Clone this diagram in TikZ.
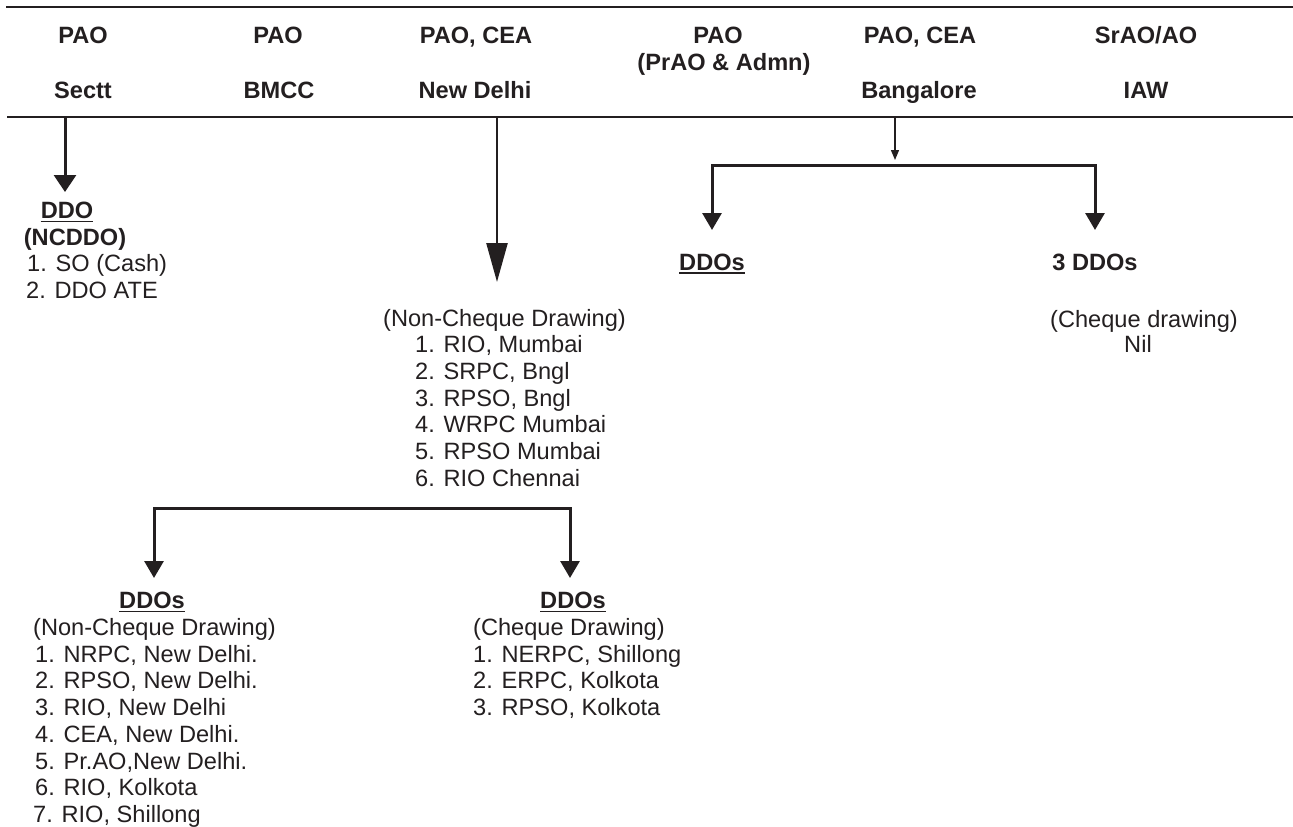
\documentclass[tikz,border=0pt]{standalone}
\usepackage{fontspec}
\setmainfont{Liberation Sans}
\usetikzlibrary{arrows.meta}
\definecolor{ink}{HTML}{231F20}
\begin{document}
\begin{tikzpicture}[x=1pt,y=-1pt,
  every node/.style={inner sep=0pt, text=ink},
  txt/.style={anchor=base west, font=\fontsize{23.6}{26.7}\selectfont},
  ctxt/.style={anchor=base, font=\fontsize{23.6}{26.7}\selectfont},
  hdr/.style={anchor=base, font=\fontsize{23.6}{26.7}\selectfont\bfseries},
  rulel/.style={draw=ink, line width=2.5pt},
  uline/.style={draw=ink, line width=1.4pt},
  arrA/.style={draw=ink, line width=3pt, -{Triangle[width=22pt,length=17pt]}},
  arrB/.style={draw=ink, line width=2.5pt, -{Triangle[width=21pt,length=39pt]}},
  arrC/.style={draw=ink, line width=1.3pt, -{Triangle[width=8pt,length=10pt]}},
  arrD/.style={draw=ink, line width=3pt, -{Triangle[width=19pt,length=17pt]}},
  arrE/.style={draw=ink, line width=3pt, {Triangle[width=19pt,length=17pt]}-{Triangle[width=19pt,length=17pt]}}
]
\useasboundingbox (0,0) rectangle (1293,827);

% header rules
\coordinate (r1a) at (6,7);   \coordinate (r1b) at (1293,7);
\coordinate (r2a) at (7,117); \coordinate (r2b) at (1293,117);
\draw[rulel] (r1a) -- (r1b);
\draw[rulel] (r2a) -- (r2b);

% header texts
\node[hdr] (h1a) at (83,43) {PAO};
\node[hdr] (h1b) at (83,98) {Sectt};
\node[hdr] (h2a) at (278,43) {PAO};
\node[hdr] (h2b) at (279,98) {BMCC};
\node[hdr] (h3a) at (476,43) {PAO, CEA};
\node[hdr] (h3b) at (475,98) {New Delhi};
\node[hdr] (h4a) at (718,43) {PAO};
\node[hdr] (h4b) at (724,70) {(PrAO \& Admn)};
\node[hdr] (h5a) at (920,43) {PAO, CEA};
\node[hdr] (h5b) at (919,98) {Bangalore};
\node[hdr] (h6a) at (1146,43) {SrAO/AO};
\node[hdr] (h6b) at (1146,98) {IAW};

% ---- Sectt branch
\coordinate (s1) at (65,117);
\coordinate (t1) at (65,192);
\draw[arrA] (s1) -- (t1);
\node[hdr] (ddo) at (67,218.5) {DDO};
\draw[uline] ([yshift=-3pt]ddo.base west) -- ([yshift=-3pt]ddo.base east);
\node[hdr] (ncddo) at (75,245.2) {(NCDDO)};
\node[txt] (so1) at (27,271.9) {1. SO (Cash)};
\node[txt] (so2) at (26,298.6) {2. DDO ATE};

% ---- New Delhi branch
\coordinate (s2) at (497,117);
\coordinate (t2) at (497,282);
\draw[arrB] (s2) -- (t2);
\node[txt] (nc) at (383,326) {(Non-Cheque Drawing)};
\foreach \t [count=\i] in {{1. RIO, Mumbai},{2. SRPC, Bngl},{3. RPSO, Bngl},{4. WRPC Mumbai},{5. RPSO Mumbai},{6. RIO Chennai}}
  \node[txt] (nd\i) at (415,{326+26.7*\i}) {\t};

% ---- Bangalore branch
\coordinate (s3) at (895,117);
\coordinate (t3) at (895,160);
\draw[arrC] (s3) -- (t3);
\coordinate (bm) at (895,165);
\coordinate (bl) at (712,230);
\coordinate (br) at (1095,230);
\draw[arrD] (bm) -| (bl);
\draw[arrD] (bm) -| (br);
\node[hdr] (ddos1) at (712,270) {DDOs};
\draw[uline] ([yshift=-3pt]ddos1.base west) -- ([yshift=-3pt]ddos1.base east);
\node[hdr] (ddos3) at (1095,270) {3 DDOs};
\node[ctxt] (chq) at (1144,327) {(Cheque drawing)};
\node[ctxt] (nil) at (1138,352) {Nil};

% ---- bottom bracket
\coordinate (tL) at (154,578);
\coordinate (cL) at (154,508);
\coordinate (cR) at (570,508);
\coordinate (tR) at (570,578);
\draw[arrE] (tL) -- (cL) -- (cR) -- (tR);

\node[hdr] (ddosL) at (152,608.5) {DDOs};
\draw[uline] ([yshift=-3pt]ddosL.base west) -- ([yshift=-3pt]ddosL.base east);
\node[txt] (ncL) at (33,635.5) {(Non-Cheque Drawing)};
\foreach \t [count=\i] in {{1. NRPC, New Delhi.},{2. RPSO, New Delhi.},{3. RIO, New Delhi},{4. CEA, New Delhi.},{5. Pr.AO,New Delhi.},{6. RIO, Kolkota}}
  \node[txt] (bl\i) at (35,{635.5+26.7*\i}) {\t};
\node[txt] (bl7) at (33,822.4) {7. RIO, Shillong};

\node[hdr] (ddosR) at (573,608.5) {DDOs};
\draw[uline] ([yshift=-3pt]ddosR.base west) -- ([yshift=-3pt]ddosR.base east);
\node[txt] (cqR) at (473,635.5) {(Cheque Drawing)};
\foreach \t [count=\i] in {{1. NERPC, Shillong},{2. ERPC, Kolkota},{3. RPSO, Kolkota}}
  \node[txt] (br\i) at (473,{635.5+26.7*\i}) {\t};
\end{tikzpicture}
\end{document}
